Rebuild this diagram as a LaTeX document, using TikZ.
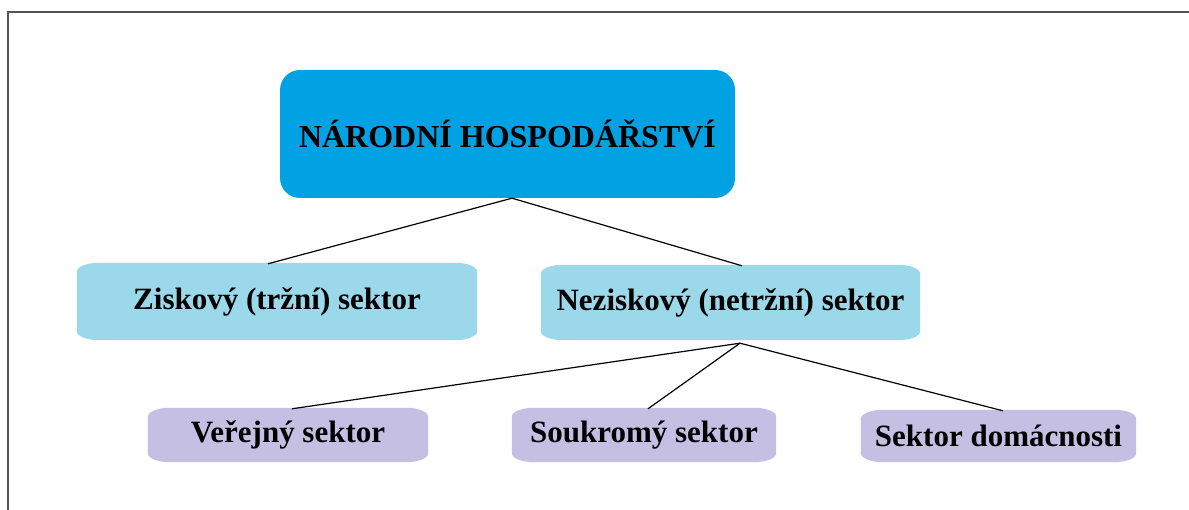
\documentclass[tikz,border=0pt]{standalone}
\usepackage{fontspec}
\setmainfont{Liberation Serif}
\usetikzlibrary{backgrounds}
\definecolor{topblue}{HTML}{00A2E3}
\definecolor{midblue}{HTML}{9AD8EA}
\definecolor{lav}{HTML}{C6BFE4}
\definecolor{framegray}{HTML}{555555}
\tikzset{
  lbl/.style={font=\fontsize{31}{35}\selectfont\bfseries, inner sep=0pt, align=center},
  conn/.style={line width=1.2pt, black},
}
\newcommand\sectorshape[2]{%
  \fill[#2] ([xshift=22pt]#1.north west) -- ([xshift=-22pt]#1.north east)
    arc[start angle=90,end angle=0,x radius=22pt,y radius=9pt]
    -- ([yshift=9pt]#1.south east)
    arc[start angle=0,end angle=-90,x radius=22pt,y radius=9pt]
    -- ([xshift=22pt]#1.south west)
    arc[start angle=270,end angle=180,x radius=22pt,y radius=9pt]
    -- ([yshift=-9pt]#1.north west)
    arc[start angle=180,end angle=90,x radius=22pt,y radius=9pt] -- cycle;}
\begin{document}
\begin{tikzpicture}[x=1pt,y=1pt]
\useasboundingbox (0,0) rectangle (1189,510);

\node[lbl, font=\fontsize{32}{36}\selectfont\bfseries, fill=topblue, rounded corners=20pt, minimum width=455pt, minimum height=128pt] (top) at (507.5,376) {NÁRODNÍ HOSPODÁŘSTVÍ};

\node[lbl, minimum width=400pt, minimum height=77pt] (zisk) at (277,208.5) {Ziskový (tržní) sektor};
\node[lbl, minimum width=379pt, minimum height=75pt] (nezisk) at (730.5,207.5) {Neziskový (netržní) sektor};

\node[lbl, minimum width=280pt, minimum height=54pt] (verej) at (288,75) {Veřejný sektor};
\node[lbl, minimum width=264pt, minimum height=54pt] (soukr) at (644,75) {Soukromý sektor};
\node[lbl, minimum width=275pt, minimum height=52pt] (domac) at (998.5,74) {Sektor domácnosti};

\begin{scope}[on background layer]
  \fill[white] (0,0) rectangle (1189,510);
  \draw[framegray, line width=1.6pt] (8,-5) -- (8,498) -- (1195,498);
  \sectorshape{zisk}{midblue}
  \sectorshape{nezisk}{midblue}
  \sectorshape{verej}{lav}
  \sectorshape{soukr}{lav}
  \sectorshape{domac}{lav}
\end{scope}

\draw[conn] ([xshift=4.5pt]top.south) -- ([xshift=-9pt,yshift=-1pt]zisk.north);
\draw[conn] ([xshift=4.5pt]top.south) -- ([xshift=11.5pt,yshift=-1pt]nezisk.north);
\draw[conn] ([xshift=9.5pt,yshift=-3pt]nezisk.south) -- ([xshift=4pt,yshift=-1pt]verej.north);
\draw[conn] ([xshift=9.5pt,yshift=-3pt]nezisk.south) -- ([xshift=4pt,yshift=-1pt]soukr.north);
\draw[conn] ([xshift=9.5pt,yshift=-3pt]nezisk.south) -- ([xshift=4.5pt,yshift=-1pt]domac.north);
\end{tikzpicture}
\end{document}
